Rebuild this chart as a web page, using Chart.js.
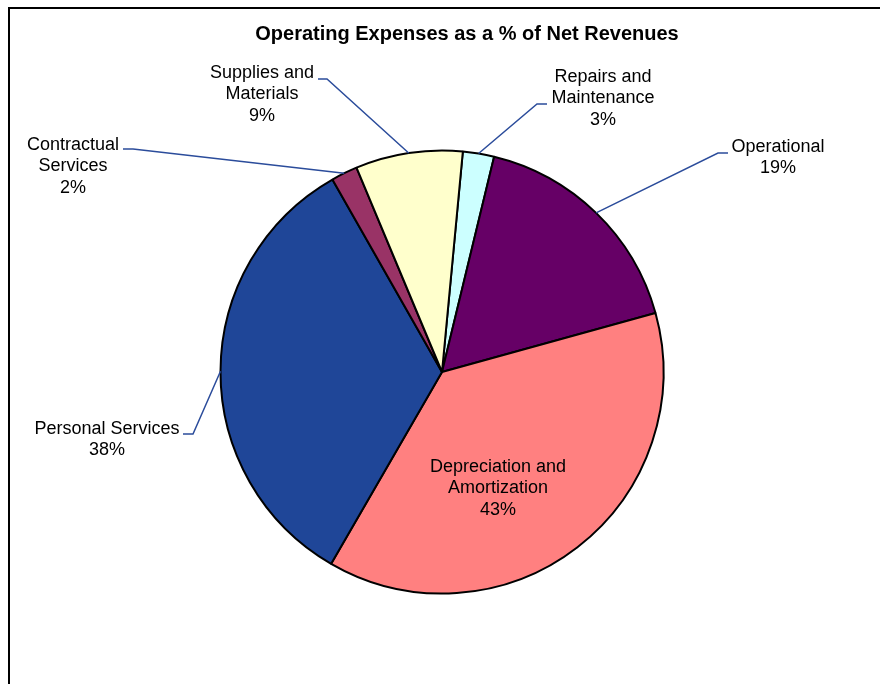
<!DOCTYPE html>
<html>
<head>
<meta charset="utf-8">
<script src="https://cdn.jsdelivr.net/npm/chart.js@4/dist/chart.umd.min.js"></script>
<style>
  body { margin: 0; background: #fff; }
  canvas { display: block; }
</style>
</head>
<body>
<canvas id="pieChart" width="880" height="684"></canvas>
<script>
// Data (values are % of net revenues, so they sum to more than 100)
const categories = [
    ["Repairs and", "Maintenance"],
    ["Operational"],
    ["Depreciation and", "Amortization"],
    ["Personal Services"],
    ["Contractual", "Services"],
    ["Supplies and", "Materials"]
];
const values = [2.6, 19.3, 42.9, 38.1, 2.2, 8.9];
const colors = ["#CCFFFF", "#660066", "#FF8080", "#1F4698", "#993366", "#FFFFCC"];

// Label placement: text centre x, first line y, and the leader's horizontal stub
const labelPos = [
    { x: 603, y: 77, stub: [547, 537, 104] },
    { x: 778, y: 147, stub: [728, 718, 153] },
    { x: 498, y: 467, stub: null },
    { x: 107, y: 429, stub: [183, 193, 434] },
    { x: 73, y: 145, stub: [123, 133, 149] },
    { x: 262, y: 73, stub: [318, 327, 79] }
];

const FONT = "18px 'Liberation Sans', Arial, sans-serif";
const LINE_H = 21.5;

const labelsPlugin = {
    id: "pieLabels",
    afterDraw(chart) {
        const ctx = chart.ctx;
        const arcs = chart.getDatasetMeta(0).data;
        ctx.save();

        // frame (top and left edges only)
        ctx.strokeStyle = "#000";
        ctx.lineWidth = 2;
        ctx.beginPath();
        ctx.moveTo(9, 684);
        ctx.lineTo(9, 8);
        ctx.lineTo(880, 8);
        ctx.stroke();

        // title
        ctx.fillStyle = "#000";
        ctx.font = "bold 20px 'Liberation Sans', Arial, sans-serif";
        ctx.textAlign = "center";
        ctx.textBaseline = "middle";
        ctx.fillText("Operating Expenses as a % of Net Revenues", 467, 34);

        // leaders + labels
        ctx.font = FONT;
        arcs.forEach((arc, i) => {
            const p = labelPos[i];
            if (p.stub) {
                const mid = (arc.startAngle + arc.endAngle) / 2;
                const ex = arc.x + Math.cos(mid) * arc.outerRadius;
                const ey = arc.y + Math.sin(mid) * arc.outerRadius;
                ctx.strokeStyle = "#2B4C9B";
                ctx.lineWidth = 1.5;
                ctx.beginPath();
                ctx.moveTo(p.stub[0], p.stub[2]);
                ctx.lineTo(p.stub[1], p.stub[2]);
                ctx.lineTo(ex, ey);
                ctx.stroke();
            }
            const lines = categories[i].concat([Math.round(values[i]) + "%"]);
            ctx.fillStyle = "#000";
            lines.forEach((t, k) => ctx.fillText(t, p.x, p.y + k * LINE_H));
        });
        ctx.restore();
    }
};

new Chart(document.getElementById("pieChart"), {
    type: "pie",
    data: {
        labels: categories.map(c => c.join(" ")),
        datasets: [{
            data: values,
            backgroundColor: colors,
            borderColor: "#000",
            borderWidth: 2,
            hoverOffset: 0,
            offset: 0
        }]
    },
    options: {
        responsive: false,
        animation: false,
        rotation: 5.4,
        layout: {
            padding: { left: 219.5, right: 215.5, top: 149.5, bottom: 89.5 }
        },
        plugins: {
            legend: { display: false },
            tooltip: { enabled: false }
        }
    },
    plugins: [labelsPlugin]
});
</script>
</body>
</html>
